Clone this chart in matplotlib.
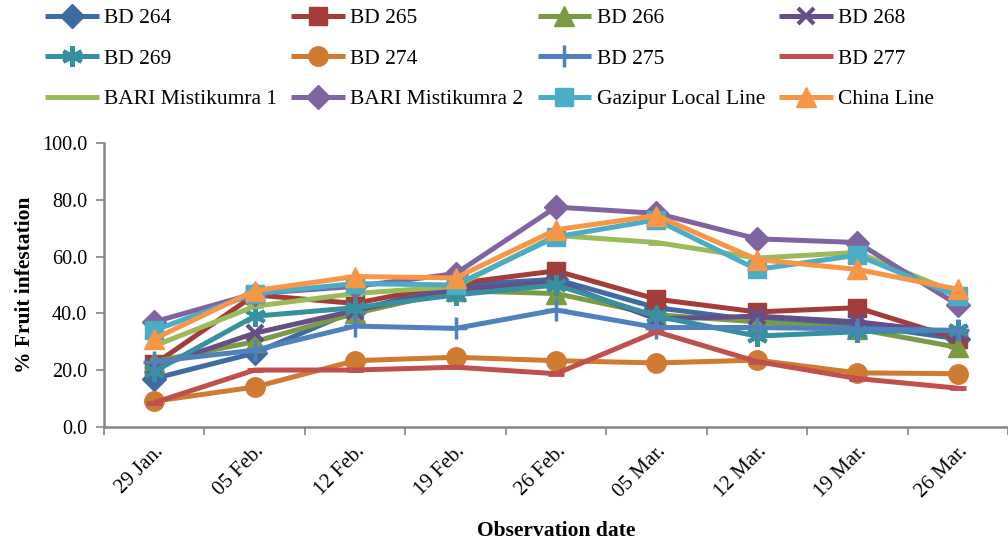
import numpy as np
import matplotlib
matplotlib.use("Agg")
import matplotlib.pyplot as plt

# observation dates
dates = ['29 Jan.', '05 Feb.', '12 Feb.', '19 Feb.', '26 Feb.', '05 Mar.', '12 Mar.', '19 Mar.', '26 Mar.']

# % fruit infestation per genotype
bd264 = [17.0, 26.0, 41.0, 50.0, 52.0, 42.0, 37.5, 36.0, 31.0]
bd265 = [22.0, 46.5, 43.5, 50.5, 55.0, 45.0, 40.5, 42.0, 31.0]
bd266 = [23.0, 30.0, 40.0, 48.0, 47.0, 39.5, 37.0, 34.5, 28.0]
bd268 = [21.0, 33.0, 41.0, 48.5, 51.0, 38.0, 39.0, 37.0, 33.0]
bd269 = [19.5, 39.0, 42.0, 46.5, 50.0, 39.0, 32.0, 33.5, 34.0]
bd274 = [9.0, 14.0, 23.3, 24.5, 23.3, 22.5, 23.5, 19.0, 18.7]
bd275 = [23.0, 27.0, 35.5, 34.7, 41.2, 35.0, 35.0, 34.5, 34.0]
bd277 = [8.5, 20.0, 20.0, 21.0, 18.7, 33.5, 23.0, 17.0, 13.6]
bari1 = [28.5, 42.5, 47.0, 49.5, 67.5, 65.0, 59.5, 61.5, 47.0]
bari2 = [37.0, 47.0, 49.5, 54.0, 77.5, 75.3, 66.3, 65.0, 43.0]
gazipur = [34.0, 47.0, 50.5, 50.0, 67.0, 73.0, 55.5, 60.5, 46.0]
china = [31.0, 48.0, 53.0, 52.5, 69.5, 74.5, 59.0, 55.5, 48.5]

names = ['BD 264', 'BD 265', 'BD 266', 'BD 268', 'BD 269', 'BD 274',
         'BD 275', 'BD 277', 'BARI Mistikumra 1', 'BARI Mistikumra 2',
         'Gazipur Local Line', 'China Line']
series = [bd264, bd265, bd266, bd268, bd269, bd274,
          bd275, bd277, bari1, bari2, gazipur, china]

colors = ['#3D6BA4', '#A23D3A', '#7A9A44', '#664E86', '#35909F', '#CF7B31',
          '#4F81BD', '#C0504D', '#9BBB59', '#8064A2', '#4BACC6', '#F79646']
markers = ['D', 's', '^', 'x', (6, 2, 0), 'o', '+', '_', '_', 'D', 's', '^']
msizes = [12, 13, 15, 12, 15, 14, 16, 12, 12, 12, 13, 15]
mews = [1, 1, 1, 3, 3, 1, 2.5, 3.5, 3.5, 1, 1, 1]

plt.rcParams['font.family'] = ['Liberation Serif', 'DejaVu Serif']

fig = plt.figure(figsize=(10.08, 5.4), dpi=100)
ax = fig.add_axes([104 / 1008, 0.2098, 1 - 104 / 1008, 0.5248])

x = np.arange(len(dates))
lines = []
for name, vals, c, m, ms, mw in zip(names, series, colors, markers, msizes, mews):
    ln, = ax.plot(x, vals, color=c, lw=3.6, marker=m, markersize=ms,
                  markeredgewidth=mw, markeredgecolor=c, markerfacecolor=c,
                  label=name, solid_capstyle='butt')
    lines.append(ln)

ax.set_xlim(-0.5, 8.44)
ax.set_ylim(0, 100)
ax.set_yticks(np.arange(0, 101, 20))
ax.set_yticklabels([f"{v:.1f}" for v in np.arange(0, 101, 20)], fontsize=14.5)
ax.set_xticks(x)
ax.set_xticklabels(dates, rotation=45, ha='right', rotation_mode='anchor', fontsize=15)
ax.set_xticks(np.arange(-0.5, 9.0, 1.0), minor=True)
ax.tick_params(axis='x', which='major', length=0, pad=11)
ax.tick_params(axis='x', which='minor', length=6, width=1.2, color='#868686', direction='out')
ax.tick_params(axis='y', length=6, width=1.2, color='#868686', direction='out', pad=6)

for s in ['top', 'right']:
    ax.spines[s].set_visible(False)
for s in ['left', 'bottom']:
    ax.spines[s].set_color('#868686')
    ax.spines[s].set_linewidth(1.8)

ax.set_ylabel('% Fruit infestation', fontsize=15.5, fontweight='bold', labelpad=5)
ax.set_xlabel('Observation date', fontsize=15.5, fontweight='bold', labelpad=14)

# legend filled row by row, like the original
order = [0, 4, 8, 1, 5, 9, 2, 6, 10, 3, 7, 11]
fig.legend([lines[i] for i in order], [names[i] for i in order],
           loc='upper left', bbox_to_anchor=(45 / 1008, 1 - 8 / 540), ncol=4,
           frameon=False, fontsize=15.5, handlelength=2.5, handletextpad=0.25,
           columnspacing=0.65, labelspacing=0.95, borderpad=0, borderaxespad=0)

fig.savefig('out.png', dpi=100)
